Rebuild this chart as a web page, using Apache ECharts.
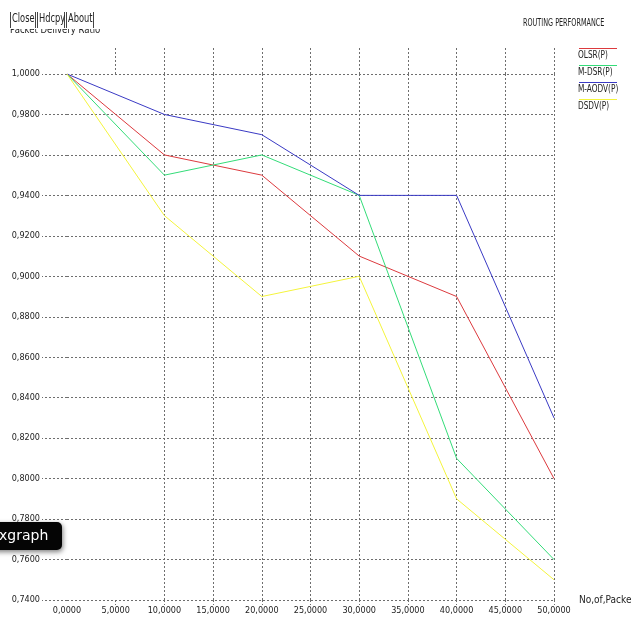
<!DOCTYPE html>
<html>
<head>
<meta charset="utf-8">
<script src="https://cdn.jsdelivr.net/npm/echarts@6/dist/echarts.min.js"></script>
<style>
  html, body { margin: 0; padding: 0; background: #fff; }
  #chart { width: 631px; height: 619px; }
</style>
</head>
<body>
<div id="chart"></div>
<script>
// Packet delivery ratio vs. number of packets, four routing protocols
const packets = [0, 10, 20, 30, 40, 50];
const olsr  = [1.00, 0.96, 0.95, 0.91, 0.89, 0.80];
const mdsr  = [1.00, 0.95, 0.96, 0.94, 0.81, 0.76];
const maodv = [1.00, 0.98, 0.97, 0.94, 0.94, 0.83];
const dsdv  = [1.00, 0.93, 0.89, 0.90, 0.79, 0.75];

const seriesNames  = ['OLSR(P)', 'M-DSR(P)', 'M-AODV(P)', 'DSDV(P)'];
const seriesValues = [olsr, mdsr, maodv, dsdv];
const seriesColors = ['#dc3a3e', '#33dc78', '#3a3ac4', '#f4f43c'];

const xTickValues = [5, 10, 15, 20, 25, 30, 35, 40, 45, 50];
const xLabelValues = [0, 5, 10, 15, 20, 25, 30, 35, 40, 45, 50];

const titleText = 'ROUTING PERFORMANCE';
const yAxisTitle = 'Packet Delivery Ratio';
const xAxisTitle = 'No,of,Packets';
const buttonLabels = ['Close', 'Hdcpy', 'About'];

const FONT = "'DejaVu Sans Condensed', 'Liberation Sans Narrow', 'Liberation Sans', sans-serif";
const GRID_COLOR = '#6e6e6e';
const dash = { color: GRID_COLOR, width: 1, type: [2, 2] };
const fmt = v => Number(v).toFixed(4).replace('.', ',');

// narrow text, squeezed horizontally to mimic the X11 fixed font
function narrowText(x, y, text, size, sx, z) {
  return {
    type: 'text', z: z, x: x, y: y, scaleX: sx,
    style: { x: 0, y: 0, text: text, fill: '#222', font: size + 'px ' + FONT, textVerticalAlign: 'top' }
  };
}

const chart = echarts.init(document.getElementById('chart'), null, { renderer: 'canvas' });

const graphics = [];

// y-axis caption, its upper half hidden under the button row
graphics.push(narrowText(10, 25, yAxisTitle, 11, 0.86, 10));
graphics.push({
  type: 'rect', z: 19,
  shape: { x: 8, y: 10, width: 94, height: 19 },
  style: { fill: '#fff', stroke: null }
});

// window buttons
const btnBoxes = [[10, 26], [37, 28], [66, 28]];
buttonLabels.forEach((t, i) => {
  const [bx, bw] = btnBoxes[i];
  graphics.push({
    type: 'polyline', z: 21,
    shape: { points: [[bx + 0.5, 12], [bx + 0.5, 28]] },
    style: { stroke: '#444', lineWidth: 1, fill: null }
  });
  graphics.push({
    type: 'polyline', z: 21,
    shape: { points: [[bx + bw - 0.5, 12], [bx + bw - 0.5, 28]] },
    style: { stroke: '#444', lineWidth: 1, fill: null }
  });
  graphics.push(narrowText(bx + 2, 13, t, 11.5, 0.8, 22));
});

// chart title
graphics.push(narrowText(523, 18, titleText, 10, 0.72, 10));

// legend: coloured rule above each name
seriesNames.forEach((name, i) => {
  const y = 48 + i * 17;
  graphics.push({
    type: 'line', z: 10,
    shape: { x1: 579, y1: y + 0.5, x2: 617, y2: y + 0.5 },
    style: { stroke: seriesColors[i], lineWidth: 1.2 }
  });
  graphics.push(narrowText(578, y + 2, name, 10.5, 0.78, 10));
});

// desktop tooltip overlay
graphics.push({
  type: 'rect', z: 30,
  shape: { x: -10, y: 522, width: 72, height: 28, r: 5 },
  style: { fill: '#050505', shadowBlur: 5, shadowColor: 'rgba(0,0,0,0.5)', shadowOffsetX: 1, shadowOffsetY: 2 }
});
graphics.push({
  type: 'text', z: 31,
  style: { x: -1, y: 536, text: 'xgraph', fill: '#fff', font: '14px "DejaVu Sans", sans-serif', textVerticalAlign: 'middle' }
});

const option = {
  animation: false,
  backgroundColor: '#fff',
  grid: { left: 67, right: 77, top: 74, bottom: 19, containLabel: false, outerBoundsMode: 'none' },
  xAxis: [
    {
      type: 'value', position: 'bottom', min: 0, max: 50, interval: 5,
      name: xAxisTitle, nameLocation: 'end', nameGap: 25,
      nameTextStyle: { fontFamily: FONT, fontSize: 10, color: '#222', verticalAlign: 'middle', align: 'left' },
      axisLine: { show: false },
      axisTick: { show: true, length: 5, lineStyle: dash, customValues: xTickValues },
      axisLabel: { margin: 6, fontFamily: FONT, fontSize: 9, color: '#222', formatter: fmt, customValues: xLabelValues },
      splitLine: { show: true, showMinLine: false, lineStyle: dash }
    },
    {
      type: 'value', position: 'top', min: 0, max: 50, interval: 5,
      axisLine: { show: false },
      axisTick: { show: true, length: 27, lineStyle: dash, customValues: xTickValues },
      axisLabel: { show: false },
      splitLine: { show: false }
    }
  ],
  yAxis: [
    {
      type: 'value', position: 'left', min: 0.74, max: 1.0, interval: 0.02,
      axisLine: { show: false },
      axisTick: { show: true, length: 25, lineStyle: dash },
      axisLabel: { margin: 27, fontFamily: FONT, fontSize: 9, color: '#222', formatter: fmt },
      splitLine: { show: true, lineStyle: dash }
    },
    {
      type: 'value', position: 'right', min: 0.74, max: 1.0, interval: 0.02,
      axisLine: { show: false },
      axisTick: { show: true, length: 25, lineStyle: dash },
      axisLabel: { show: false },
      splitLine: { show: false }
    }
  ],
  series: seriesNames.map((name, i) => ({
    name,
    type: 'line',
    xAxisIndex: 0,
    yAxisIndex: 0,
    symbol: 'none',
    color: seriesColors[i],
    lineStyle: { width: 1, color: seriesColors[i] },
    data: packets.map((p, k) => [p, seriesValues[i][k]]),
    z: 5
  })),
  graphic: graphics
};

chart.setOption(option);
</script>
</body>
</html>
